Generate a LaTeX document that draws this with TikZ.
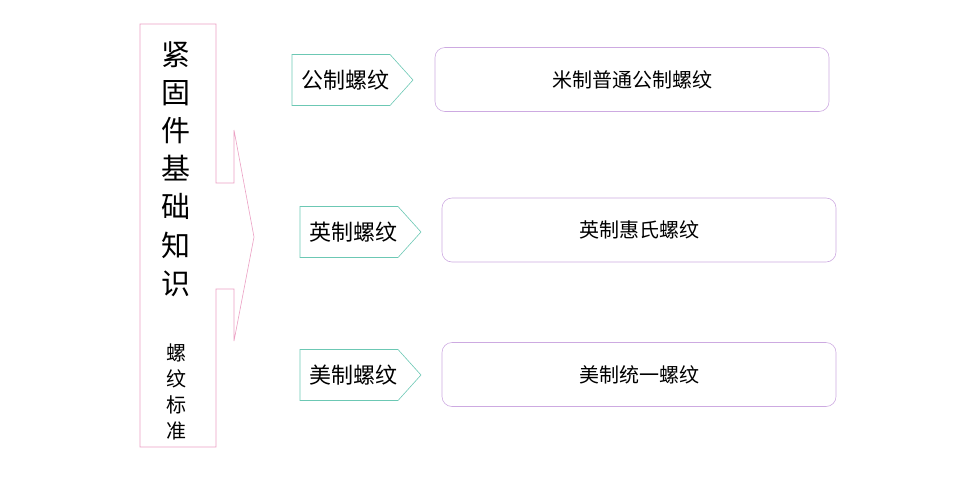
\documentclass[tikz,border=0pt]{standalone}
\usepackage{fontspec}
\usepackage{tikz}
\usetikzlibrary{
  positioning,
  shapes.symbols
}
\newfontfamily\cjk{Noto Sans CJK SC}
\definecolor{arrpink}{HTML}{EBA0C3}
\definecolor{tagteal}{HTML}{6CC8B4}
\definecolor{boxviolet}{HTML}{CDAAE1}

\begin{document}
\begin{tikzpicture}[
  x=1pt, y=-1pt,
  tag/.style={draw=tagteal, semithick, signal, signal to=east,
              signal pointer angle=96, minimum width=121pt,
              minimum height=51pt, inner sep=0pt,
              font=\cjk\fontsize{22}{26}\selectfont},
  kind/.style={draw=boxviolet, semithick, rounded corners=10pt,
               minimum width=394pt, minimum height=64pt,
               font=\cjk\fontsize{20}{24}\selectfont},
  colchars/.style={align=center, inner sep=0pt},
]
  \useasboundingbox (0,0) rectangle (960,480);

  % big arrow on the left
  \draw[arrpink, semithick] (140,24) -- (216,24) -- (216,183) -- (234,183)
    -- (234,130) -- (254,237) -- (234,341) -- (234,289) -- (216,289)
    -- (216,447) -- (140,447) -- cycle;
  \node[colchars, font=\cjk\fontsize{29}{38.2}\selectfont] (title) at (176,169)
    {紧\\固\\件\\基\\础\\知\\识};
  \node[colchars, font=\cjk\fontsize{20}{26}\selectfont] (sub) at (176,392)
    {螺\\纹\\标\\准};

  % thread systems
  \node[tag] (metric) at (341,80) {\hspace{8pt}公制螺纹};
  \node[tag] (inch) at (349,232) {\hspace{8pt}英制螺纹};
  \node[tag] (us) at (349,375) {\hspace{8pt}美制螺纹};

  % thread kinds
  \node[kind] (mstd) at (632,79.5) {米制普通公制螺纹};
  \node[kind] (whit) at (639,230) {英制惠氏螺纹};
  \node[kind] (unif) at (639,374.5) {美制统一螺纹};

\end{tikzpicture}
\end{document}
